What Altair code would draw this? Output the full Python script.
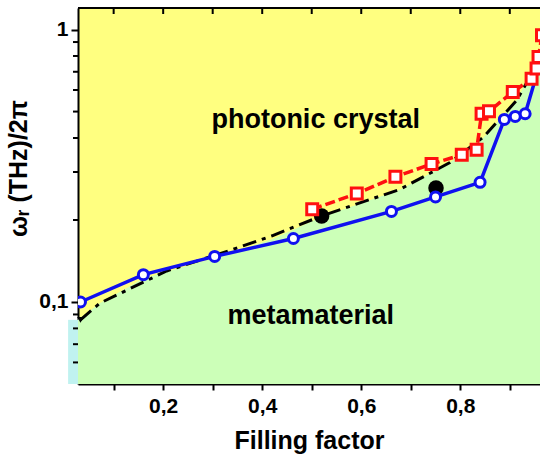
import altair as alt
import pandas as pd

# ---- data ----
blue_x = [0.033, 0.160, 0.304, 0.463, 0.661, 0.750, 0.840, 0.889, 0.911, 0.931, 0.958]
blue_y = [0.100, 0.126, 0.147, 0.171, 0.215, 0.243, 0.275, 0.468, 0.480, 0.491, 0.720]

red_x = [0.501, 0.591, 0.669, 0.742, 0.803, 0.833, 0.843, 0.858, 0.906, 0.944, 0.954, 0.958, 0.965]
red_y = [0.219, 0.250, 0.288, 0.321, 0.347, 0.362, 0.491, 0.501, 0.590, 0.660, 0.719, 0.793, 0.953]

black_x = [0.033, 0.072, 0.207, 0.341, 0.420, 0.520, 0.678, 0.779, 0.846, 0.914, 0.965]
black_y = [0.086, 0.099, 0.130, 0.156, 0.175, 0.207, 0.259, 0.325, 0.402, 0.550, 0.800]

dot_x = [0.520, 0.751]
dot_y = [0.207, 0.262]

tri_x = [0.033]
tri_y = [0.086]

# yellow/green boundary (green below)
bound_x = [0.028, 0.072, 0.160, 0.304, 0.420, 0.520, 0.678, 0.779, 0.846, 0.914, 0.975, 1.0]
bound_y = [0.086, 0.099, 0.122, 0.145, 0.170, 0.205, 0.258, 0.325, 0.400, 0.550, 0.900, 1.2]

labels = ["photonic crystal", "metamaterial"]
label_x = [0.508, 0.498]
label_y = [0.464, 0.089]

x_ticks = [0.1, 0.2, 0.3, 0.4, 0.5, 0.6, 0.7, 0.8, 0.9]
y_major = [0.1, 1.0]
y_minor = [0.06, 0.07, 0.08, 0.09, 0.2, 0.3, 0.4, 0.5, 0.6, 0.7, 0.8, 0.9]

YELLOW = "#FFFF80"
GREEN = "#CCFFB8"
FONT = "Liberation Sans"
W, H = 462, 376

xs = alt.Scale(domain=[0.028, 0.961], nice=False, zero=False)
ys = alt.Scale(type="log", domain=[0.05, 1.2], nice=False)

xaxis = alt.Axis(
    values=x_ticks,
    labelExpr="round(datum.value*10) % 2 == 0 ? replace(format(datum.value, '.1f'), '.', ',') : ''",
    title="Filling factor",
    grid=False, tickSize=6, tickWidth=2, tickColor="black",
    domainWidth=2, domainColor="black",
    labelFont=FONT, labelFontWeight="bold", labelFontSize=21, labelColor="black",
    labelPadding=5, titleFont=FONT, titleFontWeight="bold", titleFontSize=25,
    titleColor="black", titlePadding=12,
)
yaxis = alt.Axis(
    values=y_major,
    labelExpr="datum.value < 0.5 ? '0,1' : '1'",
    title="ωᵣ (THz)/2π",
    grid=False, tickSize=7, tickWidth=2, tickColor="black",
    domainWidth=2, domainColor="black",
    labelFont=FONT, labelFontWeight="bold", labelFontSize=21, labelColor="black",
    labelPadding=3, titleFont=FONT, titleFontWeight="bold", titleFontSize=25,
    titleColor="black", titleX=-47, titleY=160,
)

X = alt.X("x:Q", scale=xs, axis=xaxis)
Y = alt.Y("y:Q", scale=ys, axis=yaxis)

df_bound = pd.DataFrame({"x": bound_x, "y": bound_y, "y0": [0.05] * len(bound_x)})
df_blue = pd.DataFrame({"x": blue_x, "y": blue_y})
df_red = pd.DataFrame({"x": red_x, "y": red_y})
df_black = pd.DataFrame({"x": black_x, "y": black_y})
df_dot = pd.DataFrame({"x": dot_x, "y": dot_y})
df_tri = pd.DataFrame({"x": tri_x, "y": tri_y})
df_lab = pd.DataFrame({"x": label_x, "y": label_y, "t": labels})
df_xt = pd.DataFrame({"x": x_ticks})
df_ym = pd.DataFrame({"y": y_minor})
df_cyan = pd.DataFrame({"x": [0.008], "x2": [0.028], "y": [0.05], "y2": [0.086]})

green = alt.Chart(df_bound).mark_area(color=GREEN, clip=True, opacity=1).encode(
    x=X, y=Y, y2="y0:Q"
)
cyan = alt.Chart(df_cyan).mark_rect(color="#C0F2F0", clip=False).encode(
    x=X, x2="x2:Q", y=Y, y2="y2:Q"
)
black_line = alt.Chart(df_black).mark_line(
    color="black", strokeWidth=3, strokeDash=[14, 6, 4, 6], clip=True
).encode(x=X, y=Y)
dots = alt.Chart(df_dot).mark_point(
    shape="circle", filled=True, color="black", size=240, opacity=1
).encode(x=X, y=Y)
tri = alt.Chart(df_tri).mark_point(
    shape="triangle-down", filled=True, color="black", size=45, opacity=1
).encode(x=X, y=Y)
blue_line = alt.Chart(df_blue).mark_line(color="#1010F0", strokeWidth=3.5, clip=True).encode(x=X, y=Y)
blue_pts = alt.Chart(df_blue).mark_point(
    shape="circle", filled=True, fill="white", stroke="#1010F0", strokeWidth=3,
    size=100, opacity=1, clip=True
).encode(x=X, y=Y)
red_line = alt.Chart(df_red).mark_line(
    color="#FF1010", strokeWidth=3.5, strokeDash=[10, 4], clip=True
).encode(x=X, y=Y)
red_pts = alt.Chart(df_red).mark_point(
    shape="square", filled=True, fill="white", stroke="#FF1010", strokeWidth=3,
    size=120, opacity=1, clip=True
).encode(x=X, y=Y)
texts = alt.Chart(df_lab).mark_text(
    font=FONT, fontWeight="bold", fontSize=27, color="black", align="center", baseline="middle"
).encode(x=X, y=Y, text="t:N")
top_ticks = alt.Chart(df_xt).mark_rule(color="black", strokeWidth=2).encode(
    x=X, y=alt.value(0), y2=alt.value(6)
)
top_border = alt.Chart(df_xt).mark_rule(color="black", strokeWidth=2).encode(
    x=alt.value(0), x2=alt.value(W), y=alt.value(0)
)
y_minor_ticks = alt.Chart(df_ym).mark_rule(color="black", strokeWidth=2).encode(
    y=Y, x=alt.value(-5), x2=alt.value(0)
)

chart = alt.layer(
    green, cyan, black_line, dots, tri, blue_line, blue_pts, red_line, red_pts,
    texts, top_ticks, top_border, y_minor_ticks
).properties(
    width=W, height=H,
    autosize=alt.AutoSizeParams(type="none"),
    padding={"left": 78, "top": 8, "right": 0, "bottom": 83},
    background="white",
).configure_view(
    fill=YELLOW, strokeWidth=0
)

chart.save("out.html", embed_options={"renderer": "svg", "actions": False})
